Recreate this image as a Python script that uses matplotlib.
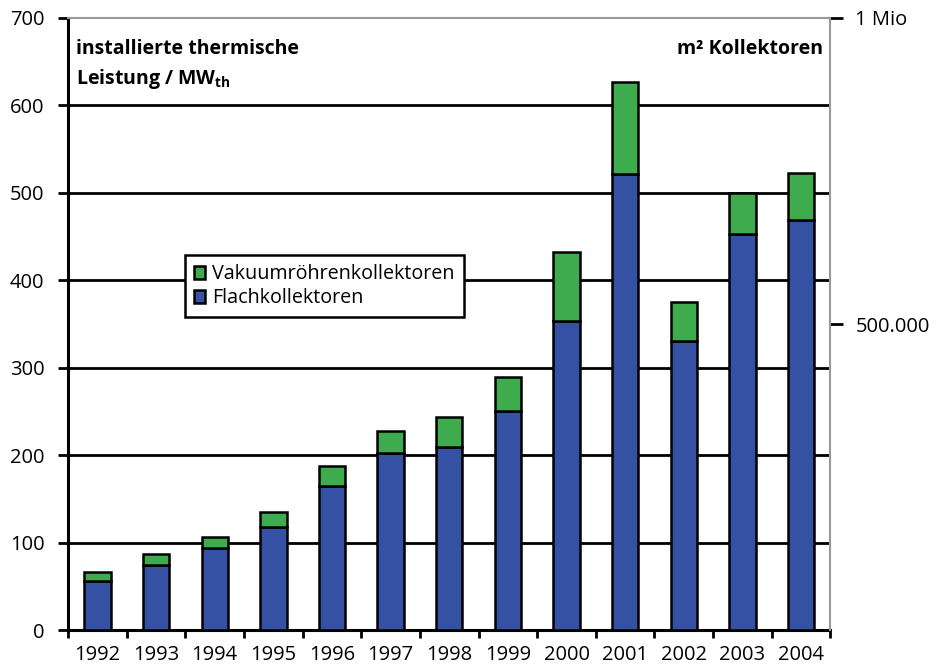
import numpy as np
import matplotlib.pyplot as plt
from matplotlib.ticker import FixedLocator

plt.rcParams['font.family'] = ['Open Sans', 'DejaVu Sans']

# Daten
jahre = ['1992', '1993', '1994', '1995', '1996', '1997', '1998',
         '1999', '2000', '2001', '2002', '2003', '2004']
flach = [56, 75, 94, 118, 165, 203, 209, 250, 353, 522, 331, 453, 469]
gesamt = [66, 87, 106, 135, 188, 228, 244, 290, 432, 627, 375, 500, 523]
vakuum = [g - f for g, f in zip(gesamt, flach)]

links_ticks = [0, 100, 200, 300, 400, 500, 600, 700]
rechts_ticks = [500000, 1000000]
rechts_labels = ['500.000', '1 Mio']

blau = '#3451a3'
gruen = '#3fab4f'

x = np.arange(len(jahre))

fig = plt.figure(figsize=(9.33, 6.64), dpi=100)
ax = fig.add_axes([0.073, 0.051, 0.817, 0.922])

ax.bar(x, flach, width=0.45, color=blau, edgecolor='black', linewidth=1.8,
       label='Flachkollektoren', zorder=3)
ax.bar(x, vakuum, width=0.45, bottom=flach, color=gruen, edgecolor='black',
       linewidth=1.8, label='Vakuumröhrenkollektoren', zorder=3)

ax.set_xlim(-0.5, len(jahre) - 0.5)
ax.set_ylim(0, 700)
ax.set_yticks(links_ticks)
ax.tick_params(axis='y', labelsize=14.5, length=7, width=2, pad=10)
ax.set_xticks(x)
ax.set_xticklabels(jahre)
ax.tick_params(axis='x', which='major', length=0, labelsize=14.5, pad=11)
ax.xaxis.set_minor_locator(FixedLocator(np.arange(-0.5, len(jahre), 1.0)))
ax.tick_params(axis='x', which='minor', length=6, width=2)

for v in links_ticks[1:-1]:
    ax.axhline(v, color='black', linewidth=2, zorder=1)

ax.spines['left'].set_linewidth(2.2)
ax.spines['bottom'].set_linewidth(2.2)
ax.spines['top'].set_color('#999999')
ax.spines['top'].set_linewidth(1.5)
ax.spines['right'].set_visible(False)

# rechte Achse: m² Kollektoren
ax2 = ax.twinx()
ax2.set_ylim(0, 1000000)
ax2.set_yticks(rechts_ticks)
ax2.set_yticklabels(rechts_labels)
ax2.tick_params(axis='y', labelsize=14.5, length=9, width=2, pad=9)
ax2.spines['right'].set_color('#999999')
ax2.spines['right'].set_linewidth(1.5)
for s in ['left', 'top', 'bottom']:
    ax2.spines[s].set_visible(False)

ax.text(0.01, 0.965, 'installierte thermische\nLeistung / MW$_{\\mathregular{th}}$',
        transform=ax.transAxes, fontsize=14, fontweight='bold',
        va='top', ha='left', linespacing=1.45)
ax.text(0.99, 0.965, 'm² Kollektoren', transform=ax.transAxes, fontsize=14,
        fontweight='bold', va='top', ha='right')

h, l = ax.get_legend_handles_labels()
leg = ax.legend(h[::-1], l[::-1], loc='upper left', bbox_to_anchor=(0.153, 0.612),
                fontsize=14.2, frameon=True, fancybox=False, framealpha=1,
                edgecolor='black', handlelength=0.6, handleheight=0.6,
                handletextpad=0.35, borderpad=0.45, labelspacing=0.2,
                borderaxespad=0)
leg.get_frame().set_linewidth(1.8)
leg.set_zorder(5)

fig.savefig('out.png', dpi=100)
